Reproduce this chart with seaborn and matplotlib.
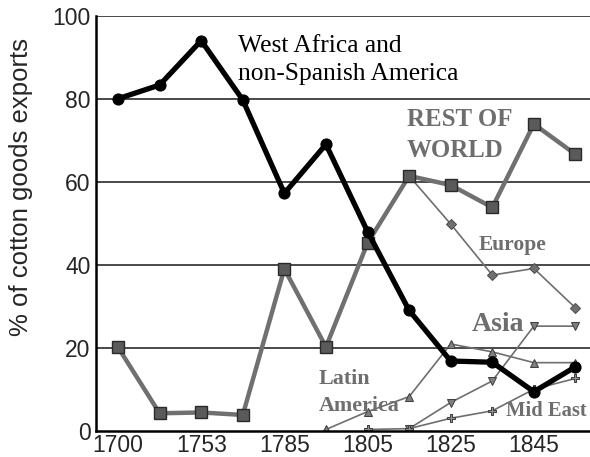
import numpy as np
import pandas as pd
import matplotlib
matplotlib.use("Agg")
import matplotlib.pyplot as plt
import seaborn as sns

# ---- data ----
x_labels = ["1700", "", "1753", "", "1785", "", "1805", "", "1825", "", "1845", ""]
west_africa = [80, 83.3, 94, 79.7, 57.2, 69, 48, 29, 16.8, 16.5, 9.4, 15.4]
rest_world = [20.1, 4.2, 4.4, 3.8, 39, 20.2, 45.2, 61.4, 59.2, 53.8, 73.9, 66.6]
europe = [None, None, None, None, None, None, None, 61.4, 49.8, 37.5, 39.1, 29.6]
latin_america = [None, None, None, None, None, 0.3, 4.6, 8.2, 20.9, 19.0, 16.4, 16.4]
asia = [None, None, None, None, None, None, None, 0.5, 6.8, 12.0, 25.2, 25.2]
mid_east = [None, None, None, None, None, None, 0.3, 0.5, 3.0, 4.8, 10.0, 12.6]
y_ticks = [0, 20, 40, 60, 80, 100]

sns.set_theme(style="white")
plt.rcParams['font.family'] = ['Liberation Sans', 'DejaVu Sans']

fig = plt.figure(figsize=(5.9, 4.57), dpi=100)
ax = fig.add_axes([0.1627, 0.0575, 0.8373, 0.9081])

pos = np.arange(len(x_labels))

def df_of(vals):
    d = pd.DataFrame({"x": pos, "y": [np.nan if v is None else v for v in vals]})
    return d.dropna()

for g in [20, 40, 60, 80, 100]:
    ax.axhline(g, color="#3a3a3a", lw=1.3, zorder=0)

thin = "#6e6e6e"
sns.lineplot(data=df_of(europe), x="x", y="y", ax=ax, color=thin, lw=1.2,
             marker="D", markersize=5, markerfacecolor="#707070", markeredgecolor="#505050", zorder=2)
sns.lineplot(data=df_of(latin_america), x="x", y="y", ax=ax, color=thin, lw=1.2,
             marker="^", markersize=6, markerfacecolor="#808080", markeredgecolor="#404040", zorder=2)
sns.lineplot(data=df_of(asia), x="x", y="y", ax=ax, color=thin, lw=1.2,
             marker="v", markersize=6, markerfacecolor="#808080", markeredgecolor="#404040", zorder=2)
sns.lineplot(data=df_of(mid_east), x="x", y="y", ax=ax, color=thin, lw=1.2,
             marker="P", markersize=6, markerfacecolor="#909090", markeredgecolor="#404040", zorder=2)
sns.lineplot(data=df_of(rest_world), x="x", y="y", ax=ax, color="#707070", lw=3.2,
             marker="s", markersize=9, markerfacecolor="#5a5a5a", markeredgecolor="#2a2a2a",
             markeredgewidth=1, zorder=3)
sns.lineplot(data=df_of(west_africa), x="x", y="y", ax=ax, color="black", lw=3.8,
             marker="o", markersize=8, markerfacecolor="black", markeredgecolor="black", zorder=4)

ax.set_xlim(-0.53, 11.35)
ax.set_ylim(0, 100)
ax.set_xticks(pos)
ax.set_xticklabels(x_labels, fontsize=16.5)
ax.set_yticks(y_ticks)
ax.set_yticklabels([str(t) for t in y_ticks], fontsize=16.5)
ax.tick_params(axis="x", length=0, pad=2)
ax.tick_params(axis="y", length=0, pad=4)
ax.set_xlabel("")
ax.set_ylabel("% of cotton goods exports", fontsize=18.5)
ax.yaxis.set_label_coords(-0.1275, 0.588)

for s in ["top", "right"]:
    ax.spines[s].set_visible(False)
for s in ["left", "bottom"]:
    ax.spines[s].set_color("black")
    ax.spines[s].set_linewidth(1.8)

serif = ['Liberation Serif', 'DejaVu Serif']
gray = "#6e6e6e"
def label(x, y, s, size, color=gray, weight="bold"):
    ax.text(x, y, s, family=serif, fontsize=size, fontweight=weight, color=color,
            va="baseline", ha="left", clip_on=False)

label(2.88, 91.3, "West Africa and", 18.4, color="black", weight="normal")
label(2.88, 84.5, "non-Spanish America", 18.4, color="black", weight="normal")
label(6.95, 73.5, "REST OF", 17.9)
label(6.95, 66.0, "WORLD", 17.9)
label(8.67, 43.5, "Europe", 15.5)
label(8.50, 24.1, "Asia", 20)
label(4.83, 11.25, "Latin", 15.8)
label(4.83, 4.8, "America", 15.8)
label(9.33, 3.5, "Mid East", 14.8)

fig.savefig("out.png", dpi=100)
